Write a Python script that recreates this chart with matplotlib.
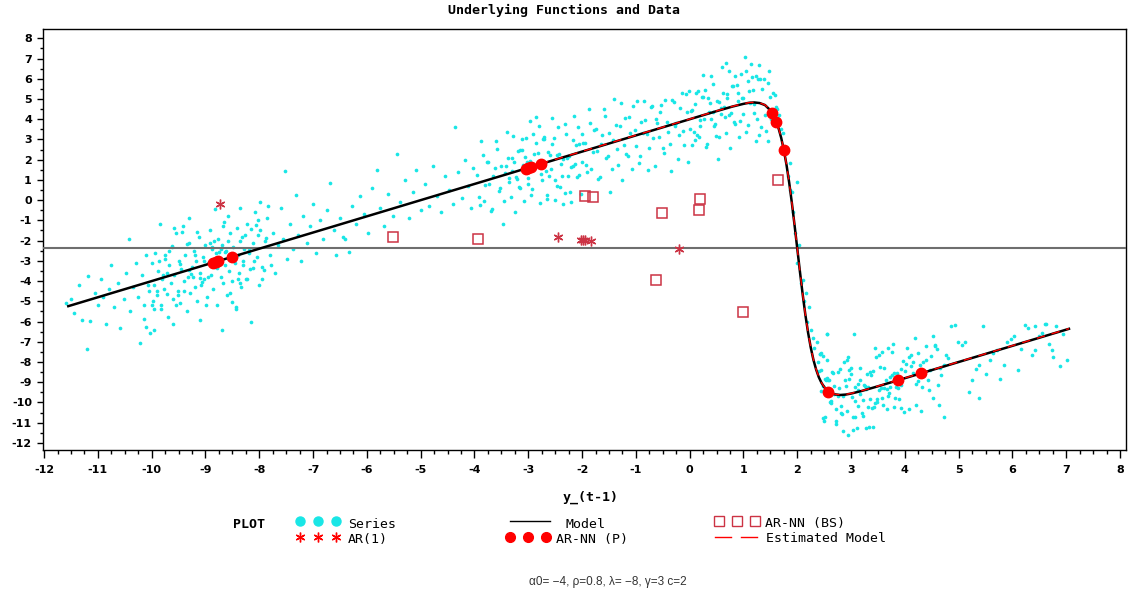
import matplotlib
matplotlib.use("Agg")
import matplotlib.pyplot as plt
from matplotlib.ticker import MultipleLocator

plt.rcParams['axes.unicode_minus'] = False

# ---------------------------------------------------------------- data
# simulated series: (y_(t-1), y_t) pairs, grouped by region of the lag axis
far_left_x = [-11.60, -11.50, -11.45, -11.35, -11.30, -11.20, -11.18, -11.15, -11.05, -11.00,
              -10.95, -10.90, -10.85, -10.80, -10.75, -10.70, -10.62, -10.58, -10.52, -10.48,
              -10.42, -10.40, -10.35, -10.30, -10.26, -10.22, -10.18, -10.14, -10.10, -10.05]
far_left_y = [-5.1, -4.9, -5.6, -4.2, -5.9, -7.36, -3.75, -5.98, -4.6, -5.2,
              -3.9, -4.8, -6.1, -4.4, -3.2, -5.3, -4.1, -6.3, -4.9, -3.6,
              -1.9, -5.5, -4.3, -3.1, -4.8, -7.06, -3.7, -5.2, -2.7, -4.5]

left_x = [-10.00, -9.98, -9.95, -9.93, -9.90, -9.88, -9.85, -9.83, -9.80, -9.78,
          -9.75, -9.72, -9.70, -9.68, -9.65, -9.62, -9.60, -9.58, -9.55, -9.52,
          -9.50, -9.48, -9.45, -9.42, -9.40, -9.38, -9.35, -9.32, -9.30, -9.28,
          -9.25, -9.22, -9.20, -9.18, -9.15, -9.12, -9.10, -9.08, -9.05, -9.02,
          -9.00, -8.98, -8.95, -8.92, -8.90, -8.88, -8.86, -8.84, -8.82, -8.80,
          -8.78, -8.76, -8.74, -8.72, -8.70, -8.68, -8.66, -8.64, -8.62, -8.60,
          -8.58, -8.56, -8.54, -8.52, -8.50, -8.48, -8.46, -8.44, -8.42, -8.40,
          -8.38, -8.36, -8.34, -8.32, -8.30, -8.28, -8.25, -8.22, -8.20, -8.18,
          -8.15, -8.12, -8.10, -8.08, -8.05, -8.02, -8.00, -9.60, -9.10, -8.70,
          -9.30, -9.95, -8.35]
left_y = [-3.1, -5.0, -4.2, -2.6, -4.7, -3.5, -1.2, -5.4, -3.9, -4.4,
          -2.9, -3.6, -5.8, -3.2, -4.1, -2.3, -4.9, -3.7, -1.6, -4.5,
          -3.0, -5.1, -3.4, -1.3, -4.0, -2.7, -5.5, -3.8, -2.1, -4.6,
          -3.3, -2.5, -4.3, -3.0, -5.0, -1.8, -3.6, -4.2, -2.8, -3.9,
          -2.2, -4.8, -3.1, -1.5, -3.7, -2.4, -4.4, -2.0, -3.3, -2.6,
          -5.2, -1.9, -2.9, -3.8, -2.2, -4.1, -1.1, -3.2, -2.5, -4.7,
          -2.0, -3.5, -1.6, -2.8, -4.0, -2.3, -3.1, -5.4, -1.4, -2.7,
          -3.6, -2.0, -4.3, -1.8, -3.0, -2.4, -3.9, -1.2, -2.6, -3.4,
          -6.0, -2.1, -3.0, -0.6, -2.8, -1.7, -4.2, -6.1, -5.9, -6.4,
          -0.9, -6.4, -0.4]

left_b_x = [-10.15, -10.11, -10.07, -10.03, -9.99, -9.95, -9.91, -9.87, -9.83, -9.79,
            -9.75, -9.71, -9.67, -9.63, -9.59, -9.55, -9.51, -9.47, -9.43, -9.39,
            -9.35, -9.31, -9.27, -9.23, -9.19, -9.15, -9.11, -9.07, -9.03, -8.99,
            -8.95, -8.91, -8.87, -8.83, -8.79, -8.75, -8.71, -8.67, -8.63, -8.59,
            -8.55, -8.51, -8.47, -8.43, -8.39, -8.35, -8.31, -8.27, -8.23, -8.19,
            -8.15, -8.11, -8.07, -8.03, -7.99, -7.95, -7.91, -7.87, -7.83, -7.79]
left_b_y = [-5.88, -6.29, -4.17, -6.55, -5.20, -5.39, -4.48, -3.02, -5.18, -3.72,
            -2.70, -4.65, -2.53, -2.27, -1.36, -5.18, -4.71, -3.14, -1.56, -4.50,
            -2.16, -3.45, -3.64, -3.82, -2.69, -1.56, -3.84, -4.03, -3.00, -5.17,
            -3.82, -2.14, -2.33, -0.42, -3.36, -2.56, -2.42, -1.29, -2.57, -0.78,
            -4.60, -5.01, -2.89, -5.27, -3.92, -4.11, -3.20, -1.74, -3.90, -2.44,
            -1.42, -3.37, -1.25, -0.99, -0.08, -3.90, -3.43, -1.86, -0.28, -3.22]

mid_x = [-7.98, -7.95, -7.90, -7.85, -7.80, -7.75, -7.70, -7.65, -7.60, -7.55,
         -7.52, -7.48, -7.42, -7.38, -7.32, -7.28, -7.22, -7.18, -7.12, -7.05,
         -7.00, -6.95, -6.88, -6.82, -6.75, -6.68, -6.62, -6.57, -6.50, -6.45,
         -6.40, -6.33, -6.28, -6.20, -6.12, -6.05, -5.98, -5.90, -5.81, -5.75,
         -5.68, -5.60, -5.52, -5.44, -5.38, -5.30, -5.22, -5.15, -5.08, -5.00,
         -4.92, -4.85, -4.78, -4.70, -4.62, -4.55, -4.48, -4.40, -4.36, -4.30,
         -4.24, -4.18, -4.12, -4.06, -4.02]
mid_y = [-1.5, -3.3, -2.0, -0.9, -2.7, -1.6, -3.6, -2.2, -0.4, -1.9,
         1.43, -2.9, -1.2, -2.4, 0.25, -1.7, -3.0, -0.8, -2.1, -1.3,
         -0.2, -2.6, -1.0, -1.9, -0.5, 0.84, -1.5, -2.72, -0.9, -1.8,
         -1.9, -2.57, -0.3, -1.2, 0.2, -0.7, -1.6, 0.6, 1.48, -0.4,
         -1.3, 0.3, -0.8, 2.27, -0.1, 1.0, -0.9, 0.4, 1.5, -0.5,
         0.8, -0.3, 1.7, 0.2, -0.6, 1.2, 0.5, -0.2, 3.6, 1.4,
         0.1, 2.0, 0.7, -0.4, 1.6]

upper_a_x = [-3.95, -3.90, -3.85, -3.80, -3.75, -3.70, -3.65, -3.60, -3.55, -3.50,
             -3.45, -3.40, -3.35, -3.30, -3.25, -3.20, -3.15, -3.10, -3.05, -3.00,
             -2.95, -2.90, -2.85, -2.80, -2.75, -2.70, -2.65, -2.60, -2.55, -2.50,
             -2.45, -2.40, -2.35, -2.30, -2.25, -2.20, -2.15, -2.10, -2.05, -2.00,
             -1.95, -1.90, -1.85, -1.80, -1.75, -1.70, -1.65, -1.60, -1.55, -1.50,
             -1.45, -1.40, -1.35, -1.30, -1.25, -1.20, -1.15, -1.10, -1.05, -1.00,
             -0.95, -0.90, -0.85, -0.80, -0.75, -0.70, -0.65, -0.60, -0.55, -0.50,
             -0.45, -0.40, -0.35, -0.30, -0.25, -0.20, -0.15, -0.10, -0.05, 0.00,
             0.05, 0.10, 0.15, 0.20, 0.25, 0.30, 0.35, 0.40, 0.45, 0.50,
             0.55, 0.60, 0.65, 0.70, 0.75, 0.80, 0.85, 0.90, 0.95, 1.00,
             1.05, 1.10, 1.15, 1.20, 1.25, 1.30]
upper_a_y = [1.24, -0.22, 2.22, 0.76, 1.90, -0.56, 1.18, 2.92, 0.46, 1.70,
             -0.06, 3.38, 0.92, 2.06, -0.60, 2.44, 0.58, 1.72, 3.06, 1.10,
             0.24, 2.28, 4.12, 1.66, 1.00, 3.04, 0.08, 2.22, 2.76, 1.00,
             3.64, 1.78, -0.18, 3.26, 2.20, 1.64, 4.18, 1.12, 2.76, 1.90,
             2.84, 1.38, 3.82, 2.36, 3.50, 1.04, 2.78, 4.52, 2.06, 3.30,
             1.54, 4.98, 2.52, 3.66, 1.00, 4.04, 2.18, 3.32, 4.66, 2.70,
             1.84, 3.88, 4.92, 3.26, 2.60, 4.64, 1.68, 3.82, 4.36, 2.60,
             4.94, 3.38, 1.42, 4.86, 3.80, 3.24, 5.30, 2.72, 4.36, 3.50,
             4.44, 2.98, 5.42, 3.96, 5.10, 2.64, 4.38, 6.12, 3.66, 4.90,
             3.14, 6.58, 4.12, 5.26, 2.60, 5.63, 3.77, 4.90, 6.23, 4.26,
             3.39, 5.41, 6.10, 4.73, 4.02, 6.00]

upper_b_x = [-3.925, -3.875, -3.825, -3.775, -3.725, -3.675, -3.625, -3.575, -3.525, -3.475,
             -3.425, -3.375, -3.325, -3.275, -3.225, -3.175, -3.125, -3.075, -3.025, -2.975,
             -2.925, -2.875, -2.825, -2.775, -2.725, -2.675, -2.625, -2.575, -2.525, -2.475,
             -2.425, -2.375, -2.325, -2.275, -2.225, -2.175, -2.125, -2.075, -2.025, -1.975,
             -1.925, -1.875, -1.825, -1.775, -1.725, -1.675, -1.625, -1.575, -1.525, -1.475,
             -1.425, -1.375, -1.325, -1.275, -1.225, -1.175, -1.125, -1.075, -1.025, -0.975,
             -0.925, -0.875, -0.825, -0.775, -0.725, -0.675, -0.625, -0.575, -0.525, -0.475,
             -0.425, -0.375, -0.325, -0.275, -0.225, -0.175, -0.125, -0.075, -0.025, 0.025,
             0.075, 0.125, 0.175, 0.225, 0.275, 0.325, 0.375, 0.425, 0.475, 0.525,
             0.575, 0.625, 0.675, 0.725, 0.775, 0.825, 0.875, 0.925, 0.975, 1.025,
             1.075, 1.125, 1.175, 1.225, 1.275]
upper_b_y = [0.16, 2.90, -0.06, 1.88, 0.82, -0.44, 1.60, 2.54, 0.58, -1.18,
             1.36, 2.10, 0.14, 3.18, 1.12, 0.66, 2.50, -0.06, 1.88, 3.92,
             0.56, 1.70, 2.34, -0.12, 3.02, 1.46, 2.40, 1.54, 3.08, 0.72,
             2.26, 1.20, 3.74, 2.08, 0.42, 2.96, 1.80, 3.64, 0.28, 2.82,
             1.76, 4.50, 1.54, 3.48, 2.42, 1.16, 3.20, 4.14, 2.18, 0.42,
             2.96, 3.70, 1.74, 4.78, 2.72, 2.26, 4.10, 1.54, 3.48, 4.90,
             2.16, 3.30, 3.94, 1.48, 4.62, 3.06, 4.00, 3.14, 4.68, 2.32,
             3.86, 2.80, 4.95, 3.68, 2.02, 4.56, 3.40, 5.24, 1.88, 4.42,
             3.36, 5.30, 3.14, 5.08, 4.02, 2.76, 4.80, 5.74, 3.78, 2.02,
             4.56, 5.30, 3.34, 6.38, 4.32, 3.85, 5.68, 3.11, 5.05, 7.08,
             3.70, 4.82, 5.43, 2.93, 6.01]

upper_c_x = [-3.41, -3.36, -3.31, -3.26, -3.21, -3.16, -3.11, -3.06, -3.01, -2.96,
             -2.91, -2.86, -2.81, -2.76, -2.71, -2.66, -2.61, -2.56, -2.51, -2.46,
             -2.41, -2.36, -2.31, -2.26, -2.21, -2.16, -2.11, -2.06, -2.01]
upper_c_y = [1.67, 1.11, 1.45, 1.89, 1.03, 2.47, 3.01, 2.15, 0.79, 1.93,
             3.27, 2.81, 3.65, 1.29, 3.13, 0.27, 1.21, 4.05, -0.01, 2.23,
             0.67, 2.01, 0.35, 1.19, -0.07, 1.67, 2.71, 1.25, 3.29]

peak_x = [-0.01, 0.04, 0.09, 0.14, 0.19, 0.24, 0.29, 0.34, 0.39, 0.44,
          0.49, 0.54, 0.59, 0.64, 0.69, 0.74, 0.79, 0.84, 0.89, 0.94,
          0.99, 1.04, 1.09, 1.14, 1.19, 1.24, 1.29,
          0.68, 1.29, 1.48, 1.35, 1.40, 1.45, 1.33, 1.38, 1.50, 1.42,
          1.55, 1.60, 1.52, 1.46]
peak_y = [5.40, 2.73, 4.77, 3.21, 3.65, 6.20, 5.43, 5.07, 4.01, 4.35,
          3.19, 4.83, 4.27, 4.61, 5.05, 4.19, 5.62, 6.16, 5.29, 3.92,
          5.05, 6.38, 5.90, 6.72, 4.33, 6.12, 3.20,
          6.8, 6.67, 6.4, 5.5, 4.2, 5.8, 3.6, 6.0, 5.1, 3.4,
          5.3, 4.6, 4.0, 2.9]

drop_x = [1.58, 1.62, 1.66, 1.70, 1.74, 1.77, 1.80, 1.83, 1.87, 1.90,
          1.86, 2.00, 1.92, 1.96, 2.00, 2.03, 2.06, 2.10, 2.12, 2.16,
          2.18, 2.22, 2.25, 2.29, 2.32, 2.36, 2.42, 2.55, 2.55, 2.38,
          2.45, 2.48]
drop_y = [5.2, 4.5, 4.2, 3.5, 3.3, 2.32, 2.6, 1.2, 1.83, 0.4,
          0.5, 0.9, -0.6, -1.6, -3.1, -2.2, -4.1, -3.95, -5.0, -4.6,
          -6.0, -5.3, -6.4, -6.8, -7.3, -7.0, -7.6, -6.6, -7.9, -8.0,
          -8.4, -7.7]

trough_a_x = [2.40, 2.44, 2.48, 2.52, 2.56, 2.60, 2.64, 2.68, 2.72, 2.76,
              2.80, 2.84, 2.88, 2.92, 2.96, 3.00, 3.04, 3.08, 3.12, 3.16,
              3.20, 3.24, 3.28, 3.32, 3.36, 3.40, 3.44, 3.48, 3.52, 3.56,
              3.60, 3.64, 3.68, 3.72, 3.76, 3.80, 3.84, 3.88, 3.92, 3.96,
              4.00, 4.04, 4.08, 4.12, 4.16, 4.20, 4.24, 4.28, 4.32, 4.36,
              4.40, 4.44, 4.48, 4.52, 4.56, 4.60, 4.64, 4.68, 4.72, 4.76]
trough_a_y = [-8.43, -7.55, -10.77, -8.82, -8.78, -9.98, -8.51, -9.19, -10.33, -9.70,
              -8.35, -10.58, -8.89, -7.92, -8.38, -8.60, -11.38, -9.91, -9.39, -8.88,
              -10.53, -9.14, -9.35, -10.20, -9.84, -8.45, -7.30, -9.99, -7.64, -9.29,
              -10.14, -8.90, -9.67, -9.24, -8.65, -10.22, -9.23, -9.28, -10.28, -7.93,
              -8.46, -7.31, -10.32, -8.21, -8.02, -9.11, -7.55, -8.16, -9.25, -8.58,
              -7.19, -9.40, -7.69, -6.70, -7.14, -7.35, -10.12, -8.65, -8.14, -7.63]

trough_b_x = [2.42, 2.47, 2.52, 2.57, 2.62, 2.67, 2.72, 2.77, 2.82, 2.87,
              2.92, 2.97, 3.02, 3.07, 3.12, 3.17, 3.22, 3.27, 3.32, 3.37,
              3.42, 3.47, 3.52, 3.57, 3.62, 3.67, 3.72, 3.77, 3.82, 3.87,
              3.92, 2.85, 2.94, 3.11, 3.33, 3.41, 4.73, 5.38, 3.06, 4.19,
              3.69, 2.55, 6.42, 6.60, 6.74]
trough_b_y = [-7.59, -9.21, -10.74, -8.88, -9.93, -8.54, -10.90, -9.30, -10.19, -8.01,
              -10.40, -8.86, -9.71, -10.71, -9.07, -8.31, -9.87, -11.27, -9.24, -8.64,
              -10.20, -7.76, -9.40, -9.76, -8.28, -10.32, -8.76, -7.12, -9.80, -8.88,
              -8.36, -11.4, -11.6, -11.26, -11.2, -11.2, -10.7, -9.8, -6.6, -6.8,
              -7.3, -6.6, -6.2, -6.1, -7.4]

trough_c_x = [2.450, 2.495, 2.540, 2.585, 2.630, 2.675, 2.720, 2.765, 2.810, 2.855,
              2.900, 2.945, 2.990, 3.035, 3.080, 3.125, 3.170, 3.215, 3.260, 3.305,
              3.350, 3.395, 3.440, 3.485, 3.530, 3.575, 3.620, 3.665, 3.710, 3.755,
              3.800, 3.845, 3.890, 3.935, 3.980, 4.025, 4.070, 4.115, 4.160, 4.205,
              4.250, 4.295, 4.340, 4.385, 4.430, 4.475, 4.520, 4.565, 4.610, 4.655]
trough_c_y = [-9.43, -10.90, -8.90, -8.91, -10.02, -9.58, -11.05, -8.50, -10.51, -9.70,
              -9.21, -7.75, -8.29, -10.73, -9.26, -10.18, -9.58, -10.67, -9.19, -8.60,
              -8.48, -10.28, -10.01, -9.81, -8.26, -7.50, -9.30, -9.35, -9.55, -7.52,
              -8.52, -8.56, -9.81, -9.13, -10.46, -8.10, -7.74, -7.63, -8.55, -10.12,
              -8.96, -10.44, -8.01, -7.89, -8.90, -8.38, -9.78, -7.19, -9.15, -8.32]

right_x = [4.80, 4.865, 4.93, 4.995, 5.06, 5.125, 5.19, 5.255, 5.32, 5.385,
           5.45, 5.515, 5.58, 5.645, 5.71, 5.775, 5.84, 5.905, 5.97, 6.035,
           6.10, 6.165, 6.23, 6.295, 6.36, 6.425, 6.49, 6.555, 6.62, 6.685,
           6.75, 6.815, 6.88, 6.945, 7.01]
right_y = [-7.80, -6.22, -6.15, -7.01, -7.14, -7.00, -9.47, -8.88, -8.37, -8.14,
           -6.20, -8.58, -7.90, -7.57, -7.43, -8.82, -8.14, -7.01, -6.86, -6.72,
           -8.38, -7.34, -6.15, -6.33, -7.63, -7.40, -6.72, -6.58, -6.10, -7.10,
           -7.77, -6.20, -8.20, -6.62, -7.89]

# true model curve  (alpha0=-4, rho=0.8, lambda=-8, gamma=3, c=2)
model_x = [-11.55, -6.0, 0.0, 0.5, 0.8, 1.0, 1.1, 1.2, 1.3, 1.4, 1.5, 1.55, 1.6, 1.65,
           1.7, 1.75, 1.8, 1.85, 1.9, 1.95, 2.0, 2.05, 2.1, 2.15, 2.2, 2.25, 2.3,
           2.35, 2.4, 2.45, 2.5, 2.6, 2.7, 2.8, 2.9, 3.0, 3.2, 3.5, 4.0, 5.0, 6.0, 7.05]
model_y = [-5.24, -0.80, 4.00, 4.40, 4.63, 4.76, 4.81, 4.83, 4.80, 4.70, 4.44, 4.23, 3.95, 3.57,
           3.09, 2.48, 1.74, 0.86, -0.15, -1.25, -2.40, -3.55, -4.65, -5.66, -6.54, -7.28, -7.89,
           -8.37, -8.75, -9.03, -9.24, -9.50, -9.60, -9.63, -9.61, -9.56, -9.43, -9.20, -8.80,
           -8.00, -7.20, -6.36]

# estimated AR-NN model curve
est_x = [-3.05, -2.0, -1.0, 0.0, 0.5, 0.8, 1.0, 1.1, 1.2, 1.3, 1.4, 1.5, 1.55, 1.6, 1.65,
         1.7, 1.75, 1.8, 1.85, 1.9, 1.95, 2.0, 2.05, 2.1, 2.15, 2.2, 2.25, 2.3,
         2.35, 2.4, 2.45, 2.5, 2.6, 2.7, 2.8, 2.9, 3.0, 3.2, 3.5, 4.0, 5.0, 6.0, 7.05]
est_y = [1.57, 2.41, 3.21, 4.01, 4.41, 4.64, 4.77, 4.82, 4.84, 4.81, 4.71, 4.45, 4.24, 3.96, 3.58,
         3.10, 2.49, 1.75, 0.87, -0.14, -1.24, -2.39, -3.54, -4.64, -5.65, -6.53, -7.27, -7.88,
         -8.36, -8.74, -9.02, -9.23, -9.49, -9.59, -9.62, -9.60, -9.55, -9.42, -9.19, -8.79,
         -7.99, -7.19, -6.35]

# AR-NN (P) forecasts
arnn_p_x = [-8.86, -8.81, -8.76, -8.50, -3.05, -3.00, -2.95, -2.76, 1.53, 1.61, 1.75, 2.58, 3.87, 4.30]
arnn_p_y = [-3.09, -3.05, -3.01, -2.80, 1.56, 1.60, 1.64, 1.79, 4.31, 3.88, 2.48, -9.46, -8.88, -8.54]

# AR(1) forecasts
ar1_x = [-8.73, -2.45, -2.02, -1.98, -1.95, -1.83, -0.20]
ar1_y = [-0.20, -1.83, -1.97, -1.99, -1.96, -2.02, -2.42]

# AR-NN (BS) forecasts
arnn_bs_x = [-5.51, -3.93, -1.94, -1.80, -0.51, 0.19, 0.17, -0.62, 0.99, 1.64]
arnn_bs_y = [-1.83, -1.93, 0.20, 0.15, -0.64, 0.05, -0.50, -3.95, -5.53, 0.99]

ref_level = -2.36

series_x = (far_left_x + left_x + left_b_x + mid_x + upper_a_x + upper_b_x + upper_c_x
            + peak_x + drop_x + trough_a_x + trough_b_x + trough_c_x + right_x)
series_y = (far_left_y + left_y + left_b_y + mid_y + upper_a_y + upper_b_y + upper_c_y
            + peak_y + drop_y + trough_a_y + trough_b_y + trough_c_y + right_y)

# ---------------------------------------------------------------- styles
W, H = 1128, 596
CYAN = '#19e6e6'
RED = '#ff0000'
DARKRED = '#cc3344'
MONO = 'DejaVu Sans Mono'
SANS = 'DejaVu Sans'
ASTERISK = (6, 2, 0)

fig = plt.figure(figsize=(W / 100, H / 100), dpi=100)
ax = fig.add_axes([43 / W, 1 - 450 / H, (1126 - 43) / W, (450 - 29) / H])

ax.scatter(series_x, series_y, s=7, marker='o', color=CYAN, linewidths=0, zorder=2)
ax.axhline(ref_level, color='#6e6e6e', lw=1.5, zorder=3)
ax.plot(model_x, model_y, color='black', lw=1.8, zorder=4, solid_joinstyle='round')
ax.plot(est_x, est_y, color=RED, lw=1.0, dashes=(6, 5), zorder=5)
ax.plot(arnn_p_x, arnn_p_y, ls='none', marker='o', ms=7.5, color=RED, zorder=6)
ax.plot(ar1_x, ar1_y, ls='none', marker=ASTERISK, ms=7, mew=1.0, color=DARKRED, zorder=6)
ax.plot(arnn_bs_x, arnn_bs_y, ls='none', marker='s', ms=7.5, mfc='none', mec=DARKRED,
        mew=1.1, zorder=6)

ax.set_xlim(-12.02, 8.11)
ax.set_ylim(-12.35, 8.46)
ax.xaxis.set_major_locator(MultipleLocator(1))
ax.xaxis.set_minor_locator(MultipleLocator(0.25))
ax.yaxis.set_major_locator(MultipleLocator(1))
ax.yaxis.set_minor_locator(MultipleLocator(0.5))
ax.tick_params(axis='x', which='major', length=6, width=1, direction='out', pad=5)
ax.tick_params(axis='x', which='minor', length=3, width=1, direction='out')
ax.tick_params(axis='y', which='major', length=4, width=1, direction='out', pad=4)
ax.tick_params(axis='y', which='minor', length=2, width=1, direction='out')
for lab in ax.get_xticklabels() + ax.get_yticklabels():
    lab.set_fontfamily(SANS)
    lab.set_fontweight('bold')
    lab.set_fontsize(8)
for sp in ax.spines.values():
    sp.set_linewidth(1.0)
    sp.set_color('black')

ax.set_xlabel('y_(t-1)', fontfamily=MONO, fontweight='bold', fontsize=9.5)
ax.xaxis.set_label_coords((591 - 43) / (1126 - 43), -(491 - 450) / (450 - 29))

fig.text(564 / W, 1 - 10 / H, 'Underlying Functions and Data', ha='center', va='center',
         fontfamily=MONO, fontweight='bold', fontsize=9.5)

# ---------------------------------------------------------------- legend block
leg = fig.add_axes([0, 0, 1, 1])
leg.set_xlim(0, W)
leg.set_ylim(H, 0)
leg.axis('off')
leg.patch.set_visible(False)

txt = dict(fontfamily=MONO, fontsize=9.5, va='center', ha='left')
leg.text(233, 524, 'PLOT', fontweight='bold', **txt)

key_x = [300, 318, 336]
leg.plot(key_x, [521] * 3, ls='none', marker='o', ms=6.5, color=CYAN)
leg.text(348, 524, 'Series', **txt)
leg.plot(key_x, [537] * 3, ls='none', marker=ASTERISK, ms=7, mew=1.0, color=RED)
leg.text(348, 539, 'AR(1)', **txt)

leg.plot([510, 550], [521, 521], color='black', lw=1.0)
leg.text(566, 524, 'Model', **txt)
leg.plot([510, 528, 546], [537] * 3, ls='none', marker='o', ms=7, color=RED)
leg.text(556, 539, 'AR-NN (P)', **txt)

leg.plot([719, 737, 755], [521] * 3, ls='none', marker='s', ms=7, mfc='none',
         mec=DARKRED, mew=1.0)
leg.text(765, 523, 'AR-NN (BS)', **txt)
leg.plot([715, 731], [537, 537], color=RED, lw=1.0)
leg.plot([741, 757], [537, 537], color=RED, lw=1.0)
leg.text(766, 539, 'Estimated Model', **txt)

fig.text(608 / W, 1 - 582 / H, 'α0= −4, ρ=0.8, λ= −8, γ=3 c=2', ha='center', va='center',
         fontfamily='Liberation Sans', fontsize=8.5, color='#333333')

fig.savefig('out.png', dpi=100)
